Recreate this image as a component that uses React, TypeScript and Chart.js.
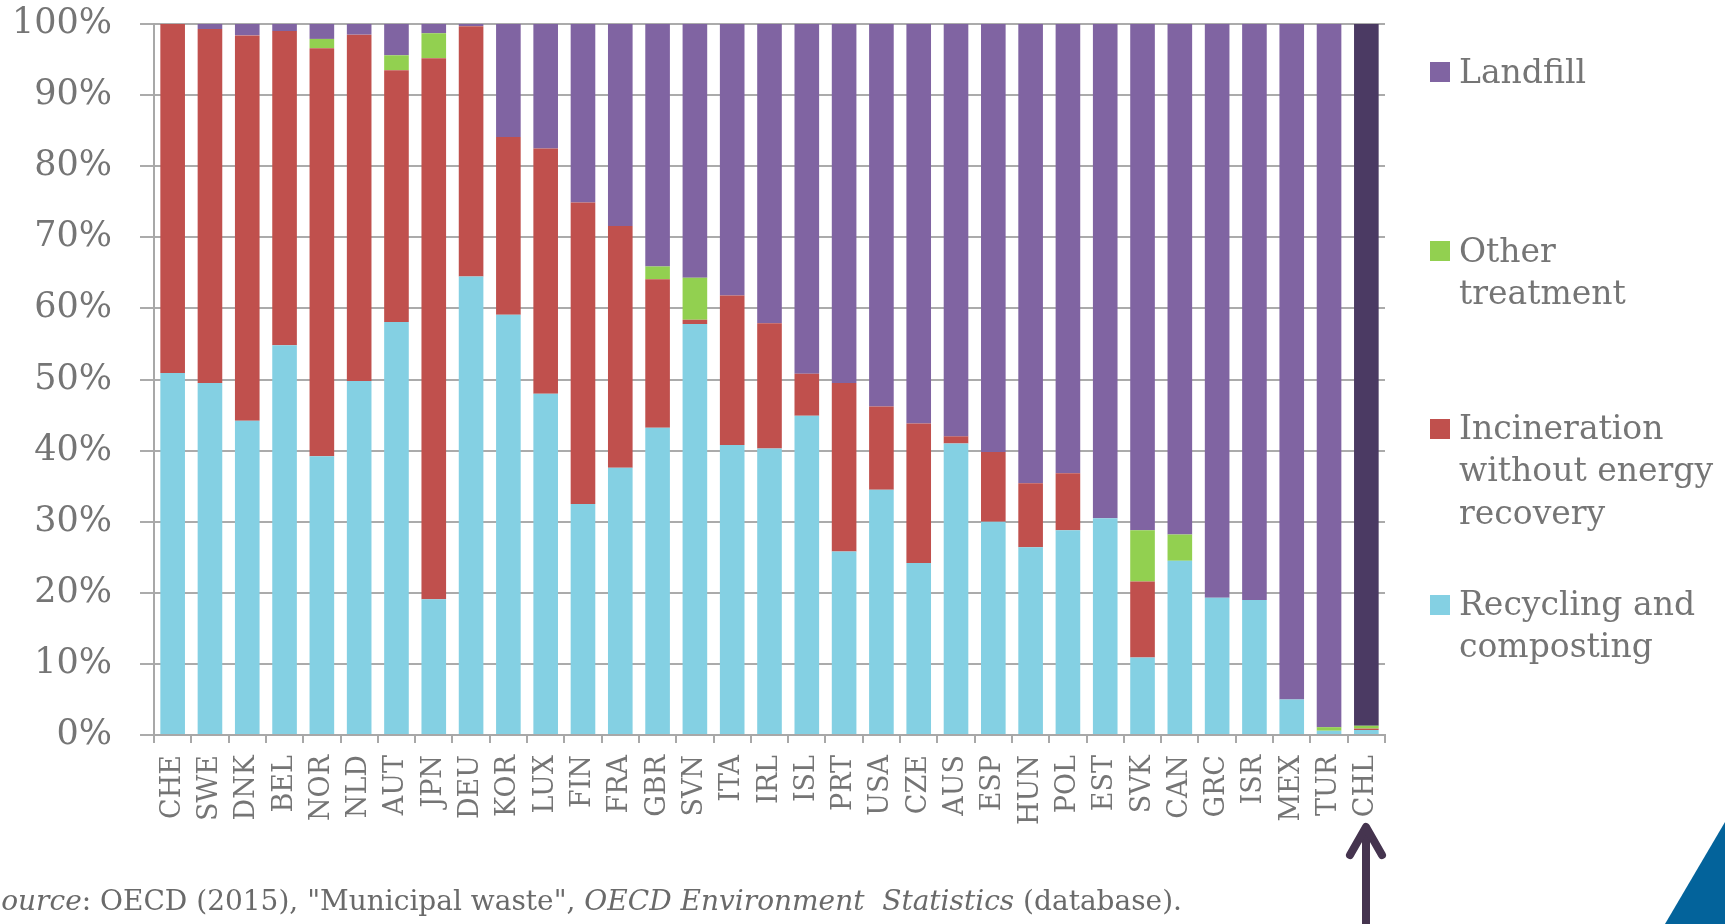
import React, { useEffect, useRef } from "react";
import { Chart, registerables } from "chart.js";

Chart.register(...registerables);

const categories = ["CHE","SWE","DNK","BEL","NOR","NLD","AUT","JPN","DEU","KOR","LUX","FIN","FRA","GBR","SVN","ITA","IRL","ISL","PRT","USA","CZE","AUS","ESP","HUN","POL","EST","SVK","CAN","GRC","ISR","MEX","TUR","CHL"];

const recycling = [50.9,49.5,44.2,54.8,39.2,49.8,58.1,19.1,64.5,59.1,48.0,32.5,37.6,43.2,57.8,40.8,40.3,44.9,25.8,34.5,24.2,41.0,30.0,26.4,28.8,30.5,10.9,24.5,19.3,19.0,5.0,0.6,0.7];
const incineration = [49.1,49.8,54.2,44.2,57.4,48.7,35.4,76.1,35.2,25.0,34.5,42.4,34.0,20.9,0.6,21.0,17.6,5.9,23.7,11.7,19.6,1.0,9.8,9.0,8.0,0,10.7,0,0,0,0,0,0.2];
const otherTreatment = [0,0,0,0,1.3,0,2.1,3.5,0,0,0,0,0,1.8,5.9,0,0,0,0,0,0,0,0,0,0,0,7.2,3.7,0,0,0,0.5,0.4];
const landfill = [0,0.7,1.6,1.0,2.1,1.5,4.4,1.3,0.3,15.9,17.5,25.1,28.4,34.1,35.7,38.2,42.1,49.2,50.5,53.8,56.2,58.0,60.2,64.6,63.2,69.5,71.2,71.8,80.7,81.0,95.0,98.9,98.7];

const yTicks = [0,10,20,30,40,50,60,70,80,90,100];
const highlighted = "CHL";

const seriesNames = {
  landfill: "Landfill",
  other: ["Other", "treatment"],
  incineration: ["Incineration", "without energy", "recovery"],
  recycling: ["Recycling and", "composting"],
};

const COLORS = {
  recycling: "#84D0E3",
  incineration: "#C0504D",
  other: "#92D050",
  landfill: "#8064A2",
  landfillHi: "#4B3A63",
};

const SERIF = "'DejaVu Serif', serif";
const TEXT_GRAY = "#757575";

export default function App() {
  const canvasRef = useRef<HTMLCanvasElement | null>(null);

  useEffect(() => {
    document.body.style.margin = "0";
    const canvas = canvasRef.current;
    if (!canvas) return;
    const barOpts = { categoryPercentage: 1, barPercentage: 0.66, borderWidth: 0 };
    const chart = new Chart(canvas, {
      type: "bar",
      data: {
        labels: categories,
        datasets: [
          { label: "Recycling and composting", data: recycling, backgroundColor: COLORS.recycling, ...barOpts },
          { label: "Incineration without energy recovery", data: incineration, backgroundColor: COLORS.incineration, ...barOpts },
          { label: "Other treatment", data: otherTreatment, backgroundColor: COLORS.other, ...barOpts },
          {
            label: "Landfill",
            data: landfill,
            backgroundColor: categories.map((c) => (c === highlighted ? COLORS.landfillHi : COLORS.landfill)),
            ...barOpts,
          },
        ],
      },
      options: {
        responsive: false,
        animation: false,
        events: [],
        layout: { padding: { left: 0, top: 24, right: 340, bottom: 0 } },
        plugins: { legend: { display: false }, tooltip: { enabled: false }, title: { display: false } },
        scales: {
          x: {
            stacked: true,
            grid: { display: true, drawOnChartArea: false, drawTicks: true, tickLength: 8, offset: true, color: "#A8A8A8", lineWidth: 2 },
            border: { display: true, color: "#A8A8A8", width: 2 },
            ticks: {
              autoSkip: false,
              maxRotation: 90,
              minRotation: 90,
              padding: 12,
              color: TEXT_GRAY,
              font: { family: SERIF, size: 27 },
            },
            afterFit: (scale: any) => {
              scale.height = 189;
              scale.paddingLeft = 0;
              scale.paddingRight = 0;
            },
          },
          y: {
            stacked: true,
            min: 0,
            max: 100,
            afterBuildTicks: (scale: any) => {
              scale.ticks = yTicks.map((v) => ({ value: v }));
            },
            grid: { color: "#ABABAB", lineWidth: 2, tickLength: 14, drawTicks: true },
            border: { display: true, color: "#A8A8A8", width: 2 },
            ticks: {
              padding: 28,
              color: TEXT_GRAY,
              font: { family: SERIF, size: 35 },
              callback: (v: any) => v + "%",
            },
            afterFit: (scale: any) => {
              scale.width = 154;
              scale.paddingTop = 0;
              scale.paddingBottom = 0;
            },
          },
        },
      },
    });
    return () => chart.destroy();
  }, []);

  const legendItems = [
    { color: COLORS.landfill, lines: [seriesNames.landfill], baseline: 83.3 },
    { color: COLORS.other, lines: seriesNames.other, baseline: 262.3 },
    { color: COLORS.incineration, lines: seriesNames.incineration, baseline: 439.5 },
    { color: COLORS.recycling, lines: seriesNames.recycling, baseline: 615.5 },
  ];

  return (
    <div style={{ position: "relative", width: 1725, height: 924, overflow: "hidden", background: "#fff" }}>
      <canvas ref={canvasRef} width={1725} height={924} style={{ position: "absolute", left: 0, top: 0, width: 1725, height: 924 }} />
      {legendItems.map((it, i) => (
        <React.Fragment key={i}>
          <div style={{ position: "absolute", left: 1430, top: it.baseline - 21, width: 20, height: 20, background: it.color }} />
          <div
            style={{
              position: "absolute",
              left: 1459,
              top: it.baseline - 32.8,
              fontFamily: SERIF,
              fontSize: 33,
              lineHeight: "42.7px",
              color: TEXT_GRAY,
              whiteSpace: "nowrap",
            }}
          >
            {it.lines.map((l, j) => (
              <div key={j}>{l}</div>
            ))}
          </div>
        </React.Fragment>
      ))}
      <div
        style={{
          position: "absolute",
          left: -18,
          top: 887,
          fontFamily: SERIF,
          fontSize: 28,
          lineHeight: "28px",
          color: "#6A6A6A",
          whiteSpace: "nowrap",
        }}
      >
        <i>Source</i>: OECD (2015), "Municipal waste", <i>OECD Environment&nbsp; Statistics</i> (database).
      </div>
      <svg width={1725} height={924} style={{ position: "absolute", left: 0, top: 0, pointerEvents: "none" }}>
        <line x1={1366} y1={930} x2={1366} y2={828} stroke="#45344F" strokeWidth={8} />
        <polyline points="1350,855 1366,827 1382,855" fill="none" stroke="#45344F" strokeWidth={8} strokeLinecap="round" strokeLinejoin="round" />
        <polygon points="1665,924 1725,822 1725,924" fill="#03639B" />
      </svg>
    </div>
  );
}
